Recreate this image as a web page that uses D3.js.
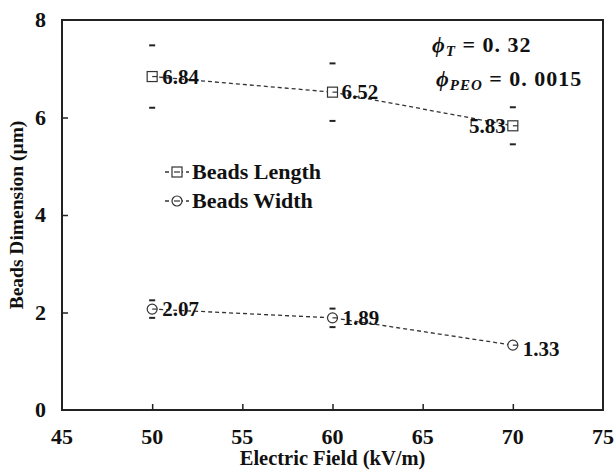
<!DOCTYPE html>
<html>
<head>
<meta charset="utf-8">
<script src="https://cdn.jsdelivr.net/npm/d3@7"></script>
<style>
  body { margin: 0; background: #fff; }
  svg text { font-family: "Liberation Serif"; font-weight: bold; fill: #111; }
</style>
</head>
<body>
<div id="chart"></div>
<script>
// data
const fields = [50, 60, 70];
const lengthVals = [6.84, 6.52, 5.83];
const lengthErr = [0.64, 0.59, 0.38];
const widthVals = [2.07, 1.89, 1.33];
const widthErr = [0.18, 0.19, 0.04];
const xTicks = [45, 50, 55, 60, 65, 70, 75];
const yTicks = [0, 2, 4, 6, 8];

const W = 616, H = 472;
const margin = {top: 20, right: 13, bottom: 62, left: 62};
const width = W - margin.left - margin.right,
      height = H - margin.top - margin.bottom;
const serif = "Liberation Serif";

const svg = d3.select("#chart").append("svg")
    .attr("width", W).attr("height", H)
    .attr("font-family", serif);
const g = svg.append("g").attr("transform", `translate(${margin.left},${margin.top})`);

const x = d3.scaleLinear().domain([45, 75]).range([0, width]);
const y = d3.scaleLinear().domain([0, 8]).range([height, 0]);

// frame
g.append("rect").attr("width", width).attr("height", height)
  .attr("fill", "none").attr("stroke", "#222").attr("stroke-width", 2);

function styleAxis(ax, hide) {
  ax.attr("font-family", serif).attr("font-weight", "bold");
  ax.select(".domain").remove();
  ax.selectAll("line").attr("stroke", "#222").attr("stroke-width", 1.5)
    .attr("display", d => hide.includes(d) ? "none" : null);
  ax.selectAll("text").remove();
}

// ticks point inward
const xAxis = g.append("g").attr("transform", `translate(0,${height})`)
  .call(d3.axisBottom(x).tickValues(xTicks).tickSize(-6));
styleAxis(xAxis, [45, 75]);
g.selectAll(".xlab").data(xTicks).join("text").attr("class", "xlab")
  .attr("x", d => x(d)).attr("y", height + 34).attr("text-anchor", "middle")
  .style("font-size", "22px").text(d => d);

const yAxis = g.append("g")
  .call(d3.axisLeft(y).tickValues(yTicks).tickSize(-6));
styleAxis(yAxis, [0, 8]);
g.selectAll(".ylab").data(yTicks).join("text").attr("class", "ylab")
  .attr("x", -16).attr("y", d => y(d) + 7).attr("text-anchor", "end")
  .style("font-size", "22px").text(d => d);

// axis titles
svg.append("text").attr("x", margin.left + width / 2).attr("y", 465)
  .attr("text-anchor", "middle").style("font-size", "20.5px").text("Electric Field (kV/m)");
svg.append("text").attr("transform", `translate(23,${margin.top + height / 2}) rotate(-90)`)
  .attr("text-anchor", "middle").style("font-size", "19.5px").text("Beads Dimension (μm)");

const line = d3.line().x(d => x(d[0])).y(d => y(d[1]));

function marker(sel, shape) {
  if (shape === "square") {
    sel.append("rect").attr("x", -5).attr("y", -5).attr("width", 10).attr("height", 10)
      .attr("fill", "#fff").attr("stroke", "#333").attr("stroke-width", 1.2);
  } else {
    sel.append("circle").attr("r", 5).attr("fill", "#fff").attr("stroke", "#333").attr("stroke-width", 1.2);
  }
}

function drawSeries(vals, errs, shape, labelPos) {
  const pts = fields.map((f, i) => [f, vals[i]]);
  g.append("path").datum(pts).attr("d", line)
    .attr("fill", "none").attr("stroke", "#333").attr("stroke-width", 1.3)
    .attr("stroke-dasharray", "4,3");
  // error caps only
  fields.forEach((f, i) => {
    [vals[i] + errs[i], vals[i] - errs[i]].forEach(v => {
      g.append("line").attr("x1", x(f) - 3).attr("x2", x(f) + 3)
        .attr("y1", y(v)).attr("y2", y(v)).attr("stroke", "#222").attr("stroke-width", 2);
    });
    const cx = x(f), cy = y(vals[i]);
    const m = g.append("g").attr("transform", `translate(${cx},${cy})`);
    marker(m, shape);
    m.append("line").attr("x1", 0).attr("x2", 5).attr("y1", 0).attr("y2", 0)
      .attr("stroke", "#333").attr("stroke-width", 1.2);
    const lp = labelPos[i];
    g.append("text").attr("x", cx + lp[0]).attr("y", cy + lp[1])
      .attr("text-anchor", lp[0] < 0 ? "end" : "start")
      .style("font-size", "21px").text(vals[i].toFixed(2));
  });
}

drawSeries(lengthVals, lengthErr, "square", [[10, 7], [9, 7], [-7, 7]]);
drawSeries(widthVals, widthErr, "circle", [[10, 7], [10, 7], [10, 11]]);

// legend
const legend = g.append("g").attr("transform", "translate(103,152)");
[["square", "Beads Length"], ["circle", "Beads Width"]].forEach((d, i) => {
  const r = legend.append("g").attr("transform", `translate(0,${i * 29})`);
  r.append("line").attr("x1", 0).attr("x2", 24).attr("stroke", "#333").attr("stroke-width", 1.3)
    .attr("stroke-dasharray", "4,3");
  const m = r.append("g").attr("transform", "translate(12,0)");
  marker(m, d[0]);
  m.append("line").attr("x1", -3).attr("x2", 3).attr("stroke", "#333").attr("stroke-width", 1.2);
  r.append("text").attr("x", 27).attr("y", 7).style("font-size", "22px").text(d[1]);
});

// annotations
const a1 = svg.append("text").attr("x", 432).attr("y", 52).style("font-size", "22px")
  .attr("letter-spacing", 1);
a1.append("tspan").attr("font-style", "italic").text("ϕ");
a1.append("tspan").attr("font-style", "italic").attr("dy", 4).style("font-size", "15px").text("T");
a1.append("tspan").attr("dy", -4).text(" = 0. 32");
const a2 = svg.append("text").attr("x", 436).attr("y", 86).style("font-size", "22px")
  .attr("letter-spacing", 1);
a2.append("tspan").attr("font-style", "italic").text("ϕ");
a2.append("tspan").attr("font-style", "italic").attr("dy", 4).style("font-size", "15px").text("PEO");
a2.append("tspan").attr("dy", -4).text(" = 0. 0015");
</script>
</body>
</html>
